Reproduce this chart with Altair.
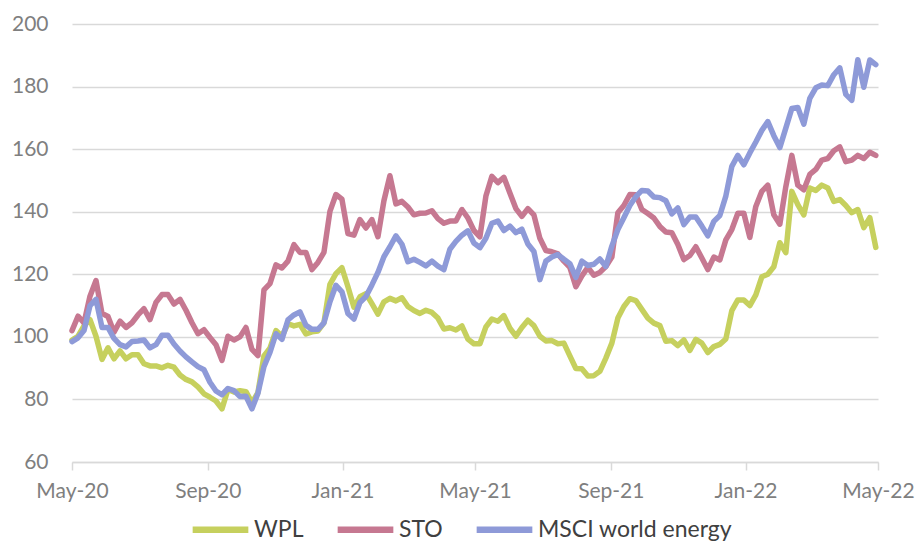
import altair as alt
import pandas as pd

series_names = ["WPL", "STO", "MSCI world energy"]
series_colors = ["#C6D05E", "#C67891", "#8E9AD8"]
y_ticks = [60, 80, 100, 120, 140, 160, 180, 200]
x_tick_dates = [(2020, 5), (2020, 9), (2021, 1), (2021, 5), (2021, 9), (2022, 1), (2022, 5)]

wpl = [
    99, 100.2, 103.5, 105.5, 100.2, 92.8, 96.5, 93, 95.5, 93,
    94.3, 94.3, 91.4, 90.7, 90.7, 90.1, 90.9, 90.3, 87.8, 86.4,
    85.6, 84, 81.8, 80.7, 79.5, 77, 83.2, 82.4, 82.8, 82.5,
    79, 82.2, 93.9, 96.4, 102, 100.2, 104.2, 103.5, 104, 100.9,
    101.6, 101.9, 104.5, 116.8, 120.2, 122.1, 116, 109.5, 112.8, 113.8,
    110.6, 107.3, 111.2, 112.3, 111.5, 112.5, 109.7, 108.4, 107.5, 108.5,
    107.8, 106, 102.5, 102.9, 102.2, 103.5, 99.3, 97.8, 97.8, 103.2,
    105.7, 105, 106.8, 102.8, 100.2, 103, 105.3, 103.6, 100.2, 98.7,
    98.8, 97.8, 98, 93.9, 89.9, 89.8, 87.5, 87.6, 89, 93.2,
    98, 106, 109.7, 112.2, 111.6, 108.8, 106, 104.4, 103.6, 98.6,
    98.8, 97.2, 99, 95.7, 99.2, 98, 95, 96.9, 97.6, 99.3,
    108.4, 111.8, 111.8, 110, 113.4, 119.2, 120, 122.4, 130.1, 126.9,
    146.5, 142.3, 139, 147.6, 146.8, 148.5, 147.6, 143.3, 143.9, 142,
    139.7, 140.7, 134.9, 138.1, 128.6,
]

sto = [
    102, 106.6, 104.5, 113, 118, 107.5, 106.5, 101.5, 105, 103,
    104.5, 107, 109, 105.5, 111, 113.5, 113.5, 110.5, 112, 108.5,
    104.5, 101, 102.3, 99.8, 97.5, 92.5, 100.2, 99, 100, 103,
    96, 94, 115, 117, 123, 122, 124.2, 129.5, 127, 127,
    121.5, 123.8, 127, 140.1, 145.5, 144, 133, 132.5, 137.5, 134.8,
    137.5, 132, 143.5, 151.5, 142.5, 143.3, 141.5, 139, 139.5, 139.6,
    140.3, 137.8, 136.3, 137, 137, 140.7, 138, 134, 132, 145,
    151.3, 149.3, 151, 146, 141, 138.5, 141, 139, 131.5, 127.6,
    127.2, 126.5, 124.2, 122.2, 116, 119.5, 122.2, 119.7, 120.6, 122.5,
    125.5, 139.7, 142, 145.5, 145.4, 140.7, 139.4, 138, 135.3, 133.5,
    133.3, 129.5, 124.7, 126, 128.8, 125.2, 121.5, 125.5, 124.6, 131,
    134.3, 139.5, 139.5, 131.8, 141.7, 146.5, 148.5, 139, 136, 148,
    158, 148.5, 147, 151.9, 153.5, 156.5, 157, 159.5, 160.7, 156,
    156.5, 158, 157, 159, 158,
]

msci = [
    98.5, 99.7, 102, 110, 112, 103, 103, 99.5, 97.5, 96.8,
    98.5, 98.7, 99, 96.5, 97.5, 100.5, 100.5, 97.7, 95.5, 93.6,
    92, 90.5, 89.5, 85.5, 82.7, 81.5, 83.5, 82.8, 80.9, 81,
    77, 82, 90.5, 95, 101, 99.2, 105.4, 107, 108, 103.7,
    102.4, 102.4, 104.5, 111.2, 116.5, 114.4, 107.5, 105.7, 111, 112.9,
    116.6, 120.6, 125.6, 128.8, 132.3, 129.6, 124, 124.8, 123.8, 122.7,
    124.2, 122.6, 121.5, 128, 130.5, 132.5, 133.9, 130, 128.5, 131.5,
    136.3, 137, 134, 135.4, 133.3, 134.4, 129.7, 127.3, 118.3, 124.2,
    125.5, 126.3, 124.8, 123.4, 119, 124.2, 122.8, 123.2, 124.9, 122.5,
    129, 134.3, 138.1, 142, 144.8, 146.8, 146.6, 144.7, 144.5, 143.5,
    139.3, 141.2, 135.9, 138.3, 138.3, 135.4, 132.3, 136.9, 138.8, 145,
    154.5, 158, 155, 158.8, 162.3, 166, 168.8, 164.3, 160.5, 166.7,
    173, 173.3, 168, 176.2, 179.6, 180.5, 180.3, 183.8, 186, 177.5,
    175.6, 188.6, 179.8, 188.5, 187,
]

frames = []
for name, vals in zip(series_names, [wpl, sto, msci]):
    dates = pd.date_range("2020-05-01", "2022-04-29", periods=len(vals))
    frames.append(pd.DataFrame({
        "date": dates.strftime("%Y-%m-%dT%H:%M:%S"),
        "value": vals,
        "series": name,
    }))
df = pd.concat(frames, ignore_index=True)

axis_font = "Lato"
label_grey = "#7f7f7f"
grid_grey = "#d9d9d9"

chart = alt.Chart(df).mark_line(
    strokeWidth=5.5, strokeJoin="round", strokeCap="round"
).encode(
    x=alt.X(
        "date:T",
        scale=alt.Scale(domain=[alt.DateTime(year=2020, month=5, date=1),
                                alt.DateTime(year=2022, month=5, date=1)]),
        axis=alt.Axis(
            values=[alt.DateTime(year=y, month=m, date=1) for y, m in x_tick_dates],
            format="%b-%y", title=None, grid=False, labelFlush=False,
            domainColor=grid_grey, domainWidth=1.5,
            tickColor=grid_grey, tickWidth=1.5, tickSize=8,
            labelFont=axis_font, labelFontSize=21, labelColor=label_grey,
            labelPadding=10,
        ),
    ),
    y=alt.Y(
        "value:Q",
        scale=alt.Scale(domain=[60, 200], nice=False, zero=False),
        axis=alt.Axis(
            values=y_ticks, title=None, domain=False, ticks=False,
            gridColor=grid_grey, gridWidth=1.5,
            labelFont=axis_font, labelFontSize=21, labelColor=label_grey,
            labelPadding=24,
        ),
    ),
    color=alt.Color(
        "series:N",
        sort=series_names,
        scale=alt.Scale(domain=series_names, range=series_colors),
        legend=alt.Legend(
            title=None, orient="none", legendX=117, legendY=474,
            direction="horizontal", symbolType="stroke", symbolSize=3100,
            symbolStrokeWidth=6.5, labelFont=axis_font, labelFontSize=23,
            labelColor="#404040", columnPadding=20, labelOffset=2,
            labelLimit=0,
        ),
    ),
).properties(
    width=806, height=438,
    autosize="none",
    padding={"left": 72, "top": 24, "right": 37, "bottom": 82},
).configure_view(stroke=None)

chart.save("out.html", embed_options={"renderer": "svg", "actions": False})
